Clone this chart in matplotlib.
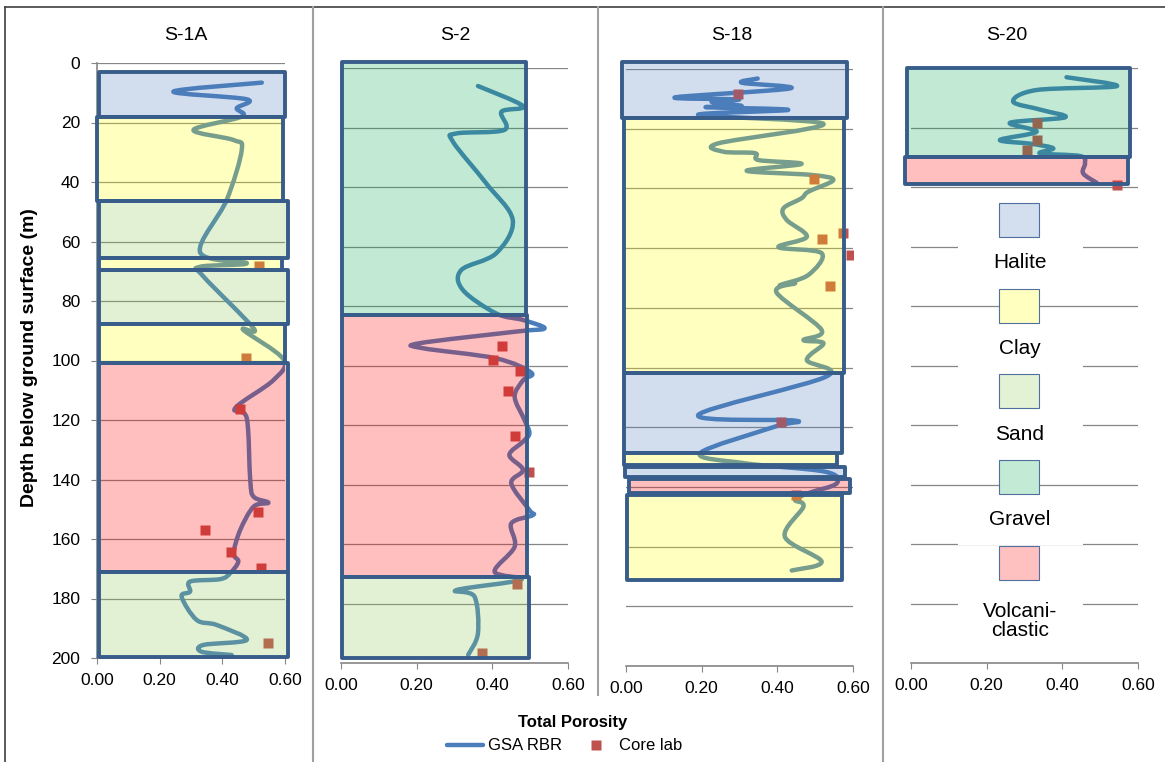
import numpy as np
import matplotlib.pyplot as plt
from matplotlib.patches import Rectangle, PathPatch
from matplotlib.path import Path
from matplotlib.lines import Line2D

plt.rcParams['font.family'] = ['Liberation Sans', 'DejaVu Sans']

W, H = 1165, 762

titles = ['S-1A', 'S-2', 'S-18', 'S-20']

# lithology layers: (top, bottom, lithology, left, right)
s1a_layers = [(3, 18, 'Halite', 0.005, 0.60), (18, 46.5, 'Clay', 0.0, 0.595),
              (46.5, 65.5, 'Sand', 0.005, 0.61), (65.5, 69.6, 'Clay', 0.005, 0.59),
              (69.6, 87.8, 'Sand', 0.005, 0.61), (87.8, 100.8, 'Clay', 0.005, 0.60),
              (100.8, 171, 'Volcaniclastic', 0.005, 0.61), (171, 199.7, 'Sand', 0.005, 0.61)]
s2_layers = [(-2, 83, 'Gravel', 0.002, 0.49), (83, 171.2, 'Volcaniclastic', 0.002, 0.492),
             (171.2, 198.4, 'Sand', 0.002, 0.497)]
s18_layers = [(-2.2, 16.5, 'Halite', -0.01, 0.585), (16.5, 102, 'Clay', -0.004, 0.576),
              (102, 128.7, 'Halite', -0.004, 0.57), (128.7, 132.7, 'Clay', -0.005, 0.558),
              (133.4, 136.6, 'Halite', -0.002, 0.579), (137.2, 141.9, 'Volcaniclastic', 0.008, 0.592),
              (142.7, 171.2, 'Clay', 0.002, 0.57)]
s20_layers = [(0.1, 30, 'Gravel', -0.011, 0.58), (30, 39.1, 'Volcaniclastic', -0.016, 0.574)]

# GSA RBR porosity logs
s1a_depth = [6.6, 9.6, 12.2, 15.2, 18, 22.5, 25.9, 29.2, 46, 63.6, 67.3, 68.5, 71.8, 89.2, 89.7,
             99.6, 106.6, 116, 119.4, 140.2, 145.8, 147.8, 149.1, 157, 164.8, 167.6, 171.5, 173.5,
             174.3, 177.7, 179.4, 187.2, 188.9, 193.9, 195.6, 197.9, 199]
s1a_por = [0.526, 0.244, 0.478, 0.446, 0.462, 0.308, 0.436, 0.462, 0.414, 0.329, 0.478, 0.329,
           0.34, 0.50, 0.467, 0.595, 0.563, 0.441, 0.478, 0.489, 0.50, 0.547, 0.50, 0.457, 0.436,
           0.451, 0.425, 0.393, 0.297, 0.297, 0.27, 0.318, 0.382, 0.478, 0.34, 0.334, 0.43]

s2_depth = [6.05, 12.8, 14.7, 20.8, 22, 24.8, 38.8, 51.1, 62.3, 67.9, 74.6, 82.5, 84.7, 87.5,
            88.6, 92.5, 94.2, 97.6, 102.4, 105, 110.5, 118.3, 122.8, 125.6, 130.1, 135.1, 139.6,
            148.6, 150.3, 153.1, 160.9, 169.3, 172, 175.5, 177.7, 190, 197.3]
s2_por = [0.362, 0.481, 0.424, 0.432, 0.305, 0.296, 0.384, 0.454, 0.41, 0.318, 0.322, 0.41, 0.481,
          0.538, 0.463, 0.208, 0.217, 0.41, 0.503, 0.481, 0.459, 0.485, 0.498, 0.481, 0.445, 0.481,
          0.45, 0.498, 0.507, 0.45, 0.459, 0.406, 0.476, 0.305, 0.353, 0.362, 0.336]

s18_depth = [3.2, 4.6, 6.5, 9.5, 10.2, 11, 12.4, 12.8, 13.7, 15.4, 18.4, 24.9, 27.7, 28.2, 30.5,
             31.8, 34.1, 35.5, 37.2, 41.1, 43.3, 46.7, 50.6, 56.2, 59.7, 61.7, 69, 72.4, 71.8, 74.9,
             87.4, 90.8, 91.9, 97.5, 103, 115.9, 117.8, 119.8, 128.7, 132.1, 134.9, 138.8, 142.1,
             144.4, 146.6, 156.7, 165, 168]
s18_por = [0.348, 0.306, 0.434, 0.13, 0.297, 0.226, 0.306, 0.213, 0.429, 0.191, 0.522, 0.244,
           0.257, 0.341, 0.35, 0.464, 0.319, 0.491, 0.548, 0.482, 0.464, 0.416, 0.425, 0.478, 0.403,
           0.517, 0.482, 0.407, 0.447, 0.398, 0.517, 0.469, 0.522, 0.478, 0.53, 0.191, 0.447,
           0.394, 0.196, 0.315, 0.526, 0.557, 0.482, 0.447, 0.469, 0.42, 0.517, 0.438]

s20_depth = [3.1, 6.1, 7.4, 11.3, 14.1, 16.6, 18.4, 21.4, 24.2, 25.5, 27, 28.7, 29.6, 32, 35.4, 38.6]
s20_por = [0.411, 0.544, 0.332, 0.27, 0.345, 0.407, 0.262, 0.332, 0.235, 0.319, 0.376, 0.341,
           0.447, 0.46, 0.455, 0.491]

# Core lab samples
s1a_core_depth = [68.1, 99, 116.4, 151, 157, 164.5, 169.6, 194.8]
s1a_core_por = [0.518, 0.475, 0.457, 0.513, 0.345, 0.428, 0.523, 0.547]
s2_core_depth = [93.3, 98.2, 101.9, 108.6, 123.7, 135.7, 173.4, 196.7]
s2_core_por = [0.426, 0.401, 0.474, 0.441, 0.459, 0.496, 0.465, 0.373]
s18_core_depth = [8.4, 36.7, 54.8, 57, 62.4, 72.7, 118.1, 142.7]
s18_core_por = [0.295, 0.498, 0.574, 0.519, 0.594, 0.539, 0.41, 0.449]
s20_core_depth = [18.4, 24.2, 27.6, 39.3]
s20_core_por = [0.332, 0.332, 0.306, 0.544]

lith_names = ['Halite', 'Clay', 'Sand', 'Gravel', 'Volcaniclastic']
lith_labels = ['Halite', 'Clay', 'Sand', 'Gravel', 'Volcani-\nclastic']
lith_rgb = {'Halite': (79, 123, 187), 'Clay': (255, 255, 3), 'Sand': (143, 203, 87),
            'Gravel': (15, 171, 87), 'Volcaniclastic': (255, 3, 3)}
FILL_ALPHA = 0.25
EDGE = '#385D8A'
LINE = '#4A7EBB'
MARK = '#C0504D'
GRID = '#868686'

layers = [s1a_layers, s2_layers, s18_layers, s20_layers]
logs = [(s1a_depth, s1a_por), (s2_depth, s2_por), (s18_depth, s18_por), (s20_depth, s20_por)]
cores = [(s1a_core_depth, s1a_core_por), (s2_core_depth, s2_core_por),
         (s18_core_depth, s18_core_por), (s20_core_depth, s20_core_por)]

# axes boxes in pixels: x of 0.00, x of 0.60, y of 0 m, y of 200 m
boxes = [(97, 285, 63, 658), (341, 568, 68, 663), (626, 853, 69, 666), (911, 1138, 68, 663)]
title_x = [186, 455, 732, 1007]

fig = plt.figure(figsize=(W / 100, H / 100), dpi=100)


def rgba(name, a):
    r, g, b = lith_rgb[name]
    return (r / 255, g / 255, b / 255, a)


def blended(name):
    r, g, b = lith_rgb[name]
    return tuple((FILL_ALPHA * c + (1 - FILL_ALPHA) * 255) / 255 for c in (r, g, b))


def smooth_path(xs, ys):
    # Excel-style smoothed line: cubic Bezier segments through the points
    pts = np.column_stack([xs, ys]).astype(float)
    n = len(pts)
    verts = [pts[0]]
    codes = [Path.MOVETO]
    for k in range(n - 1):
        p0 = pts[k - 1] if k > 0 else pts[k]
        p1, p2 = pts[k], pts[k + 1]
        p3 = pts[k + 2] if k + 2 < n else pts[k + 1]
        verts += [p1 + (p2 - p0) / 6, p2 - (p3 - p1) / 6, p2]
        codes += [Path.CURVE4] * 3
    return Path(verts, codes)


for i, (x0, x1, y0, y1) in enumerate(boxes):
    ax = fig.add_axes([x0 / W, 1 - y1 / H, (x1 - x0) / W, (y1 - y0) / H])
    ax.set_xlim(0, 0.6)
    ax.set_ylim(200, 0)
    ax.set_xticks([0, 0.2, 0.4, 0.6])
    ax.set_xticklabels(['0.00', '0.20', '0.40', '0.60'])
    ax.set_yticks(np.arange(0, 201, 20))
    ax.yaxis.grid(True, color=GRID, lw=0.9)
    ax.set_axisbelow(True)
    for s in ['top', 'right']:
        ax.spines[s].set_visible(False)
    ax.spines['bottom'].set_color(GRID)
    ax.spines['bottom'].set_linewidth(1.2)
    ax.tick_params(axis='x', colors=GRID, labelcolor='black', labelsize=12.5, length=4, pad=7)
    if i == 0:
        ax.spines['left'].set_color(GRID)
        ax.spines['left'].set_linewidth(1.2)
        ax.tick_params(axis='y', colors=GRID, labelcolor='black', labelsize=12.5, length=4, pad=8)
    else:
        ax.spines['left'].set_visible(False)
        ax.tick_params(axis='y', length=0, labelleft=False)

    d, p = logs[i]
    ax.add_patch(PathPatch(smooth_path(p, d), facecolor='none', edgecolor=LINE, lw=3.2,
                           zorder=2, capstyle='round', joinstyle='round'))
    cd, cp = cores[i]
    ax.plot(cp, cd, 's', color=MARK, ms=7.8, mec='none', zorder=2.5)

    for top, bot, lith, left, right in layers[i]:
        ax.add_patch(Rectangle((left, top), right - left, bot - top, facecolor=rgba(lith, FILL_ALPHA),
                               edgecolor=EDGE, lw=2.8, zorder=3, clip_on=False, joinstyle='round'))

    fig.text(title_x[i] / W, 1 - 35 / H, titles[i], ha='center', va='center', fontsize=14)

    if i == 3:
        # lithology key inside the S-20 panel
        for k, (name, lab) in enumerate(zip(lith_names, lith_labels)):
            yc = 51.1 + 28.8 * k
            ax.add_patch(Rectangle((0.233, yc - 5.7), 0.105, 11.4, facecolor=blended(name),
                                   edgecolor='#4F6F9F', lw=0.8, zorder=3))
            yt = yc + 14.4 if k < 4 else yc + 19.5
            hh = 8.5 if k < 4 else 11
            ax.add_patch(Rectangle((0.124, yt - hh), 0.331, 2 * hh, facecolor='white',
                                   edgecolor='none', zorder=1))
            ax.text(0.288, yt, lab, ha='center', va='center', fontsize=15, zorder=4,
                    linespacing=1.0)

fig.text(30 / W, 1 - 358 / H, 'Depth below ground surface (m)', rotation=90, ha='center',
         va='center', fontsize=14, fontweight='bold')


# frame and panel separators
def vline(x, ya, yb, color, lw):
    fig.add_artist(Line2D([x / W, x / W], [1 - ya / H, 1 - yb / H], color=color, lw=lw,
                          transform=fig.transFigure))


fig.add_artist(Line2D([5 / W, 1], [1 - 7 / H, 1 - 7 / H], color='#404040', lw=1.2,
                      transform=fig.transFigure))
vline(5, 7, 762, '#404040', 1.2)
vline(313, 7, 762, '#A0A0A0', 1.5)
vline(597.5, 7, 695, '#A0A0A0', 1.5)
vline(883, 7, 762, '#A0A0A0', 1.5)

# bottom legend
fig.text(573 / W, 1 - 722 / H, 'Total Porosity', ha='center', va='center', fontsize=12,
         fontweight='bold')
fig.add_artist(Line2D([447 / W, 483 / W], [1 - 745 / H, 1 - 745 / H], color=LINE, lw=3.2,
                      transform=fig.transFigure, solid_capstyle='round'))
fig.text(488 / W, 1 - 745 / H, 'GSA RBR', ha='left', va='center', fontsize=12)
fig.add_artist(Line2D([596 / W], [1 - 745 / H], marker='s', color=MARK, ms=7.8, mec='none',
                      transform=fig.transFigure))
fig.text(619 / W, 1 - 745 / H, 'Core lab', ha='left', va='center', fontsize=12)

fig.savefig('out.png', dpi=100)
